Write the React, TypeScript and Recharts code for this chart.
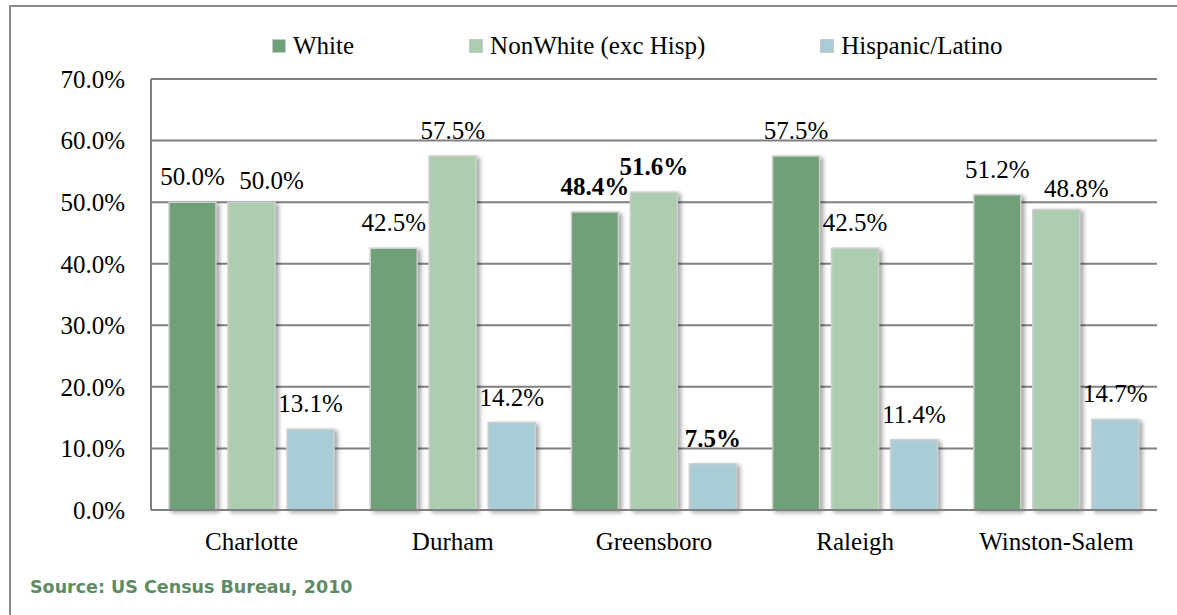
import React from "react";
import {
  BarChart,
  Bar,
  XAxis,
  YAxis,
  CartesianGrid,
  Legend,
  LabelList,
} from "recharts";

const cities = ["Charlotte", "Durham", "Greensboro", "Raleigh", "Winston-Salem"];
const white = [50.0, 42.5, 48.4, 57.5, 51.2];
const nonWhite = [50.0, 57.5, 51.6, 42.5, 48.8];
const hispanic = [13.1, 14.2, 7.5, 11.4, 14.7];
const yTicks = [0, 10, 20, 30, 40, 50, 60, 70];
const boldCities = ["Greensboro"];

const series = [
  { key: "white", name: "White", color: "#6fa077" },
  { key: "nonWhite", name: "NonWhite (exc Hisp)", color: "#adcdb0" },
  { key: "hispanic", name: "Hispanic/Latino", color: "#a9cdd7" },
];

const data = cities.map((city, i) => ({
  city,
  white: white[i],
  nonWhite: nonWhite[i],
  hispanic: hispanic[i],
}));

const FONT = '"Liberation Serif", "Times New Roman", serif';

// labels of the second bar get nudged right when they would collide with the first one
const makeLabel = (seriesKey: string) => (props: any) => {
  const { x, y, width, value, index } = props;
  const bold = boldCities.includes(cities[index]);
  const crowded = seriesKey === "nonWhite" && Math.abs(white[index] - nonWhite[index]) < 3;
  return (
    <text
      x={Number(x) + Number(width) / 2 + (crowded ? 20 : 0)}
      y={Number(y) - 17 + (crowded ? 4 : 0)}
      textAnchor="middle"
      fontFamily={FONT}
      fontSize={25}
      fontWeight={bold ? 700 : 400}
      fill="#000"
    >
      {Number(value).toFixed(1) + "%"}
    </text>
  );
};

const renderLegend = () => (
  <div style={{ display: "flex", alignItems: "center", fontFamily: FONT, fontSize: 25, color: "#000" }}>
    {series.map((s) => (
      <div key={s.key} style={{ display: "flex", alignItems: "center", marginRight: 115 }}>
        <span
          style={{
            display: "inline-block",
            width: 12,
            height: 12,
            background: s.color,
            border: "1px solid #c8c8c8",
            marginRight: 7,
          }}
        />
        {s.name}
      </div>
    ))}
  </div>
);

export default function App() {
  return (
    <div style={{ position: "absolute", left: 0, top: 0, width: 1177, height: 615, overflow: "hidden", background: "#fff" }}>
      <style>{`.recharts-bar-rectangle path { filter: drop-shadow(3px 2px 2px rgba(0,0,0,0.35)); }`}</style>
      <div
        style={{
          position: "absolute",
          left: 9,
          top: 5,
          width: 1300,
          height: 700,
          borderTop: "2px solid #8a8a8a",
          borderLeft: "2px solid #8a8a8a",
        }}
      />
      <div style={{ position: "absolute", left: 0, top: 0 }}>
        <BarChart
          width={1177}
          height={615}
          data={data}
          margin={{ top: 79, right: 20, left: 51, bottom: 45 }}
          barCategoryGap={18}
          barGap={12}
        >
          <CartesianGrid vertical={false} stroke="#808080" strokeWidth={2} />
          <XAxis
            dataKey="city"
            height={60}
            tickLine={false}
            axisLine={{ stroke: "#808080", strokeWidth: 2 }}
            tickMargin={22}
            tickSize={0}
            tick={{ fontFamily: FONT, fontSize: 25, fill: "#000" }}
            interval={0}
          />
          <YAxis
            width={100}
            domain={[0, 70]}
            ticks={yTicks}
            tickFormatter={(v: number) => v.toFixed(1) + "%"}
            tickLine={false}
            tickSize={0}
            tickMargin={26}
            axisLine={{ stroke: "#808080", strokeWidth: 2 }}
            tick={{ fontFamily: FONT, fontSize: 25, fill: "#000" }}
          />
          <Legend
            verticalAlign="middle"
            align="center"
            layout="horizontal"
            content={renderLegend}
            wrapperStyle={{ top: 32, left: 272, width: 900 }}
          />
          {series.map((s) => (
            <Bar
              key={s.key}
              dataKey={s.key}
              name={s.name}
              fill={s.color}
              stroke="#cfcfcf"
              strokeWidth={1.5}
              isAnimationActive={false}
            >
              <LabelList dataKey={s.key} content={makeLabel(s.key)} />
            </Bar>
          ))}
        </BarChart>
      </div>
      <div
        style={{
          position: "absolute",
          left: 30,
          top: 577,
          fontFamily: '"DejaVu Sans", Verdana, sans-serif',
          fontWeight: "bold",
          fontSize: 17.5,
          color: "#5e8b64",
        }}
      >
        Source: US Census Bureau, 2010
      </div>
    </div>
  );
}
